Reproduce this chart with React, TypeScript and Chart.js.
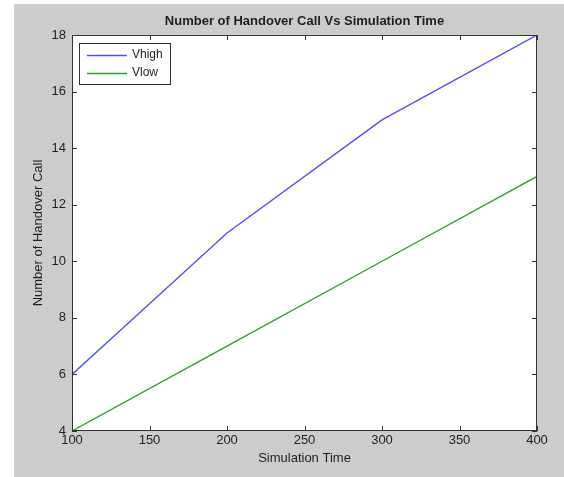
import React, { useEffect, useRef } from "react";
import { Chart, registerables } from "chart.js";

Chart.register(...registerables);

const xValues = [100, 200, 300, 400];
const vHigh = [6, 11, 15, 18];
const vLow = [4, 7, 10, 13];
const xTicks = [100, 150, 200, 250, 300, 350, 400];
const yTicks = [4, 6, 8, 10, 12, 14, 16, 18];
const seriesLabels = ["Vhigh", "Vlow"];
const seriesColors = ["#4d4dff", "#2e9e2e"];
const titleText = "Number of Handover Call Vs Simulation Time";
const xTitle = "Simulation Time";
const yTitle = "Number of Handover Call";

const FONT = '"Liberation Sans", Arial, sans-serif';
const TEXT = "#1f1f1f";

const framePlugin = {
  id: "matlabFrame",
  beforeDraw(chart: any) {
    const ctx = chart.ctx;
    ctx.save();
    ctx.fillStyle = "#ffffff";
    ctx.fillRect(0, 0, chart.width, chart.height);
    ctx.fillStyle = "#cccccc";
    ctx.fillRect(14, 4, chart.width - 14, chart.height - 4);
    const a = chart.chartArea;
    ctx.fillStyle = "#ffffff";
    ctx.fillRect(a.left, a.top, a.right - a.left, a.bottom - a.top);
    ctx.restore();
  },
  afterDatasetsDraw(chart: any) {
    const ctx = chart.ctx;
    const a = chart.chartArea;
    const xs = chart.scales.x;
    const ys = chart.scales.y;
    ctx.save();
    ctx.strokeStyle = "#333333";
    ctx.lineWidth = 1;
    ctx.strokeRect(Math.round(a.left) + 0.5, Math.round(a.top) + 0.5, Math.round(a.right - a.left) - 1, Math.round(a.bottom - a.top) - 1);
    const L = 5;
    ctx.beginPath();
    xTicks.forEach((v) => {
      const px = Math.round(xs.getPixelForValue(v)) + 0.5;
      ctx.moveTo(px, a.bottom);
      ctx.lineTo(px, a.bottom - L);
      ctx.moveTo(px, a.top);
      ctx.lineTo(px, a.top + L);
    });
    yTicks.forEach((v) => {
      const py = Math.round(ys.getPixelForValue(v)) + 0.5;
      ctx.moveTo(a.left, py);
      ctx.lineTo(a.left + L, py);
      ctx.moveTo(a.right, py);
      ctx.lineTo(a.right - L, py);
    });
    ctx.stroke();

    // legend
    const bx = 79, by = 43, bw = 91, bh = 41;
    ctx.fillStyle = "#ffffff";
    ctx.fillRect(bx, by, bw, bh);
    ctx.strokeStyle = "#333333";
    ctx.strokeRect(bx + 0.5, by + 0.5, bw, bh);
    chart.data.datasets.forEach((ds: any, i: number) => {
      const y = 55 + i * 18;
      ctx.strokeStyle = ds.borderColor;
      ctx.lineWidth = 1.3;
      ctx.beginPath();
      ctx.moveTo(87, y + 0.5);
      ctx.lineTo(127, y + 0.5);
      ctx.stroke();
      ctx.fillStyle = TEXT;
      ctx.font = `12px ${FONT}`;
      ctx.textBaseline = "middle";
      ctx.textAlign = "left";
      ctx.fillText(ds.label, 132, y);
    });
    ctx.restore();
  },
};

export default function App() {
  const ref = useRef<HTMLCanvasElement | null>(null);
  useEffect(() => {
    if (!ref.current) return;
    const chart = new Chart(ref.current, {
      type: "line",
      data: {
        datasets: [
          {
            label: seriesLabels[0],
            data: xValues.map((x, i) => ({ x, y: vHigh[i] })),
            borderColor: seriesColors[0],
            borderWidth: 1.3,
            pointRadius: 0,
            tension: 0,
          },
          {
            label: seriesLabels[1],
            data: xValues.map((x, i) => ({ x, y: vLow[i] })),
            borderColor: seriesColors[1],
            borderWidth: 1.3,
            pointRadius: 0,
            tension: 0,
          },
        ],
      },
      options: {
        animation: false,
        responsive: false,
        maintainAspectRatio: false,
        layout: { padding: { left: 0, right: 27, top: 0, bottom: 0 } },
        plugins: {
          legend: { display: false },
          tooltip: { enabled: false },
          title: {
            display: true,
            fullSize: false,
            text: titleText,
            color: TEXT,
            font: { family: FONT, size: 13, weight: "bold", lineHeight: 1.2 },
            padding: { top: 13.5, bottom: 5.9 },
          },
        },
        scales: {
          x: {
            type: "linear",
            min: 100,
            max: 400,
            grid: { display: false, drawTicks: false },
            border: { display: false },
            afterBuildTicks: (s: any) => {
              s.ticks = xTicks.map((v) => ({ value: v }));
            },
            afterFit: (s: any) => {
              s.height = 46;
            },
            ticks: {
              color: TEXT,
              font: { family: FONT, size: 13 },
              padding: 2,
              maxRotation: 0,
              autoSkip: false,
            },
            title: {
              display: true,
              text: xTitle,
              color: TEXT,
              font: { family: FONT, size: 13 },
              padding: { top: 0, bottom: 11 },
            },
          },
          y: {
            min: 4,
            max: 18,
            grid: { display: false, drawTicks: false },
            border: { display: false },
            afterBuildTicks: (s: any) => {
              s.ticks = yTicks.map((v) => ({ value: v }));
            },
            afterFit: (s: any) => {
              s.width = 72;
            },
            ticks: {
              color: TEXT,
              font: { family: FONT, size: 13 },
              padding: 6,
              autoSkip: false,
            },
            title: {
              display: true,
              text: yTitle,
              color: TEXT,
              font: { family: FONT, size: 13 },
              padding: { top: 31, bottom: 0 },
            },
          },
        },
      },
      plugins: [framePlugin],
    } as any);
    return () => chart.destroy();
  }, []);
  return (
    <div style={{ position: "absolute", left: 0, top: 0, width: 564, height: 477 }}>
      <canvas ref={ref} width={564} height={477} style={{ display: "block" }} />
    </div>
  );
}
